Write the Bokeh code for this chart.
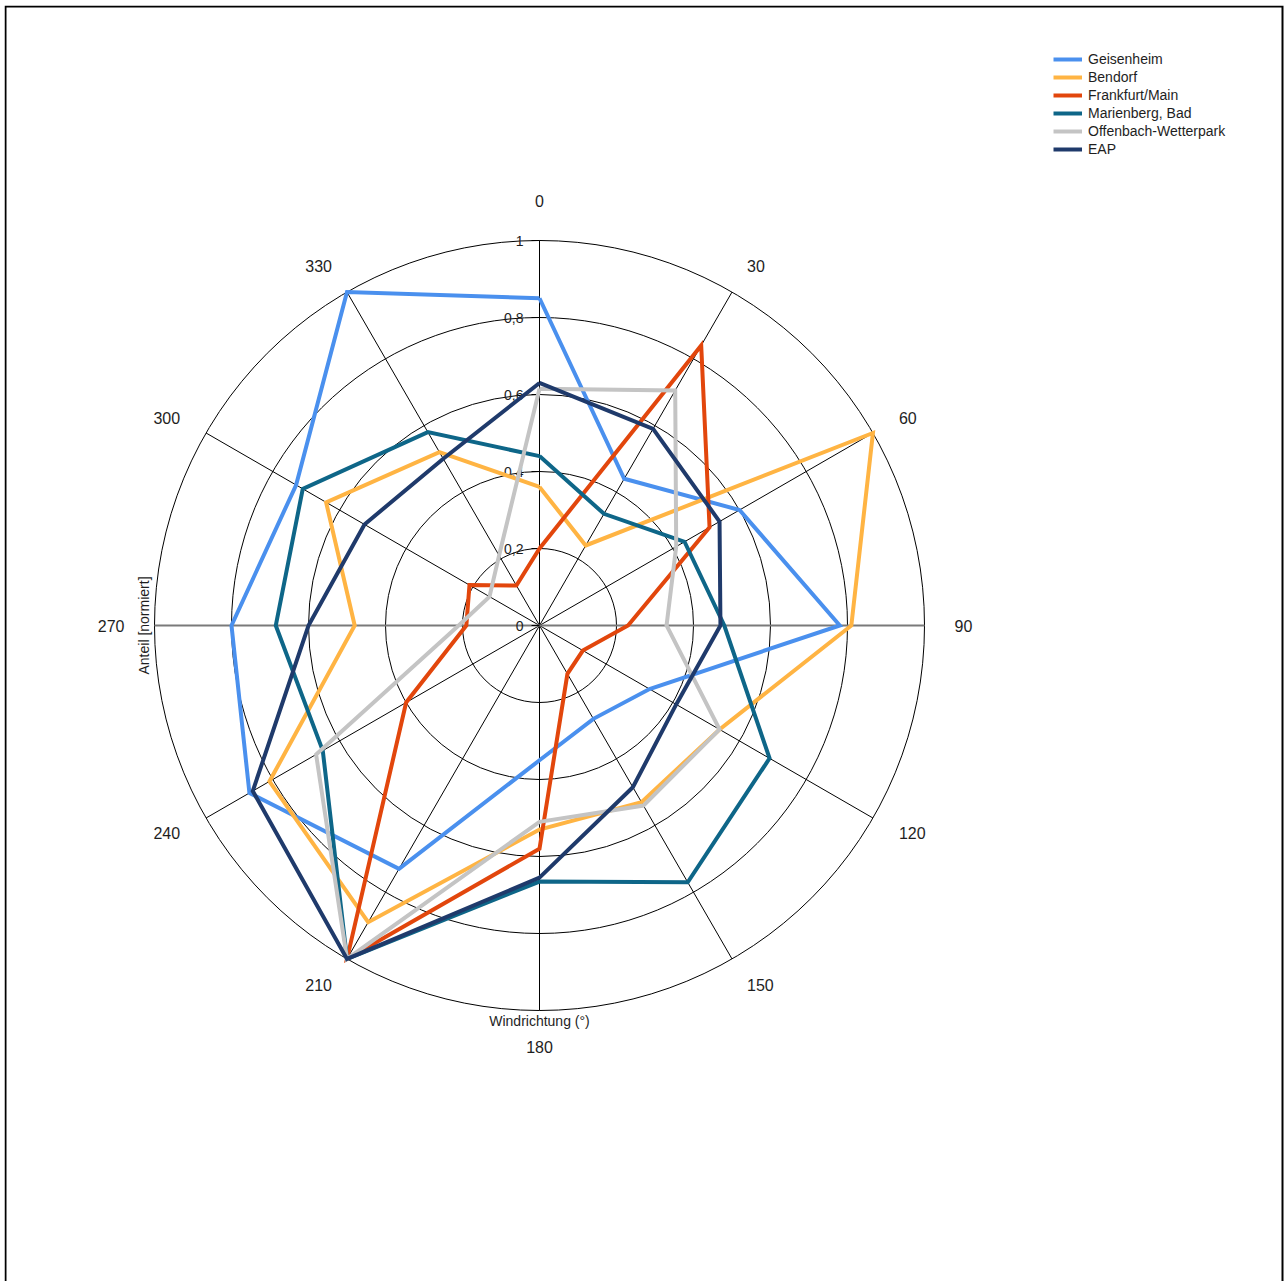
import numpy as np
from bokeh.plotting import figure
from bokeh.models import Range1d, Legend, LegendItem, Label, ColumnDataSource
from bokeh.embed import file_html
from bokeh.resources import INLINE
from bokeh.core.properties import value

# ---- data -------------------------------------------------------------
directions = [0, 30, 60, 90, 120, 150, 180, 210, 240, 270, 300, 330]
direction_labels = [str(d) for d in directions]

radial_ticks = [0.0, 0.2, 0.4, 0.6, 0.8, 1.0]
radial_tick_labels = ["0", "0,2", "0,4", "0,6", "0,8", "1"]

station_names = ["Geisenheim", "Bendorf", "Frankfurt/Main",
                 "Marienberg, Bad", "Offenbach-Wetterpark", "EAP"]

geisenheim = [0.85, 0.44, 0.60, 0.78, 0.33, 0.28, 0.35, 0.73, 0.87, 0.80, 0.73, 1.00]
bendorf = [0.36, 0.24, 1.00, 0.81, 0.54, 0.53, 0.53, 0.89, 0.81, 0.48, 0.64, 0.52]
frankfurt = [0.20, 0.84, 0.51, 0.23, 0.13, 0.145, 0.58, 1.00, 0.40, 0.19, 0.21, 0.12]
marienberg = [0.44, 0.335, 0.435, 0.48, 0.69, 0.77, 0.665, 1.00, 0.65, 0.685, 0.71, 0.58]
offenbach = [0.615, 0.705, 0.41, 0.33, 0.54, 0.54, 0.51, 1.00, 0.67, 0.21, 0.15, 0.21]
eap = [0.63, 0.59, 0.54, 0.47, 0.41, 0.485, 0.655, 1.00, 0.86, 0.60, 0.525, 0.50]

series_values = [geisenheim, bendorf, frankfurt, marienberg, offenbach, eap]
series_colors = ["#4a90ee", "#ffb443", "#e2460c", "#0e6688", "#c4c4c4", "#1f3a6b"]

# ---- geometry / layout --------------------------------------------------
W, H = 1285, 1281
PX = 385.0                      # pixels per unit of radius
BORDER_L, BORDER_T, BORDER_R, BORDER_B = 4, 5, 1, 0
frame_w = W - BORDER_L - BORDER_R
frame_h = H - BORDER_T - BORDER_B
cx, cy = 539 - BORDER_L, 625 - BORDER_T   # pole position inside the frame

FONT = "Liberation Sans"
TEXT_COLOR = "#1e1e1e"

x_range = Range1d(-cx / PX, (frame_w - cx) / PX)
y_range = Range1d(-(frame_h - cy) / PX, cy / PX)

p = figure(width=W, height=H, x_range=x_range, y_range=y_range,
           x_axis_type=None, y_axis_type=None,
           output_backend="svg", toolbar_location=None,
           min_border_left=BORDER_L, min_border_top=BORDER_T,
           min_border_right=BORDER_R, min_border_bottom=BORDER_B,
           background_fill_color="white", border_fill_color="white",
           outline_line_color=None)

# page frame: left, top and right edges only (open at the bottom)
px1 = 1 / PX
p.line(x=[x_range.start + px1, x_range.start + px1, x_range.end - 2 * px1, x_range.end - 2 * px1],
       y=[y_range.start - 0.1, y_range.end - px1, y_range.end - px1, y_range.start - 0.1],
       line_color="black", line_width=2, line_join="miter")

theta_all = np.radians(directions)

# concentric rings
rings = radial_ticks[1:]
p.circle(x=[0] * len(rings), y=[0] * len(rings), radius=rings,
         fill_color=None, line_color="black", line_width=1)

# spokes
spoke_len = radial_ticks[-1]
p.segment(x0=[0] * len(directions), y0=[0] * len(directions),
          x1=list(spoke_len * np.sin(theta_all)), y1=list(spoke_len * np.cos(theta_all)),
          line_color="black", line_width=1)
# horizontal axis line (90 / 270) drawn heavier in grey
p.segment(x0=[-spoke_len], y0=[0], x1=[spoke_len], y1=[0],
          line_color="#7a7a7a", line_width=2)

# radial ticks and their labels along the 0° axis
tick_len = 8 / PX
p.segment(x0=[-tick_len] * len(radial_ticks), y0=radial_ticks,
          x1=[0] * len(radial_ticks), y1=radial_ticks,
          line_color="black", line_width=1)
p.text(x=[0] * len(radial_ticks), y=radial_ticks, text=radial_tick_labels,
       x_offset=-16, text_align="right", text_baseline="middle",
       text_font=value(FONT), text_font_size="14px", text_color=TEXT_COLOR)

# direction labels around the outside, anchored by the edge facing the circle
lab_r = 415 / PX
groups = {}
for d, lab, th in zip(directions, direction_labels, theta_all):
    if d == 0:
        key = ("center", "bottom", -4)
    elif d == 180:
        key = ("center", "top", 0)
    elif d < 180:
        key = ("left", "middle", 0)
    else:
        key = ("right", "middle", 0)
    g = groups.setdefault(key, dict(x=[], y=[], t=[]))
    g["x"].append(lab_r * np.sin(th))
    g["y"].append(lab_r * np.cos(th))
    g["t"].append(lab)
for (align, base, yoff), g in groups.items():
    p.text(x=g["x"], y=g["y"], text=g["t"], text_align=align, text_baseline=base,
           y_offset=yoff,
           text_font=value(FONT), text_font_size="16px", text_color=TEXT_COLOR)

# station polygons
legend_items = []
for name, vals, col in zip(station_names, series_values, series_colors):
    r = np.array(vals + vals[:1])
    th = np.radians(directions + directions[:1])
    src = ColumnDataSource(dict(x=r * np.sin(th), y=r * np.cos(th)))
    rend = p.line("x", "y", source=src, line_color=col, line_width=4,
                  line_join="miter")
    legend_items.append(LegendItem(label=name, renderers=[rend]))

legend = Legend(items=legend_items,
                location=(1053 - BORDER_L, frame_h - (50 - BORDER_T) - 108),
                orientation="vertical", padding=0, spacing=0, margin=0,
                label_height=18, glyph_height=18, glyph_width=29,
                label_standoff=6, border_line_color=None,
                background_fill_alpha=0,
                label_text_font=FONT, label_text_font_size="14px",
                label_text_color=TEXT_COLOR)
p.add_layout(legend)

# axis titles
p.add_layout(Label(x=-396 / PX, y=0, text="Anteil [normiert]", angle=np.pi / 2,
                   text_align="center", text_baseline="middle",
                   text_font=FONT, text_font_size="14px", text_color=TEXT_COLOR))
p.add_layout(Label(x=0, y=-395 / PX, text="Windrichtung (°)",
                   text_align="center", text_baseline="middle",
                   text_font=FONT, text_font_size="14px", text_color=TEXT_COLOR))

open("out.html", "w").write(file_html(p, INLINE))
